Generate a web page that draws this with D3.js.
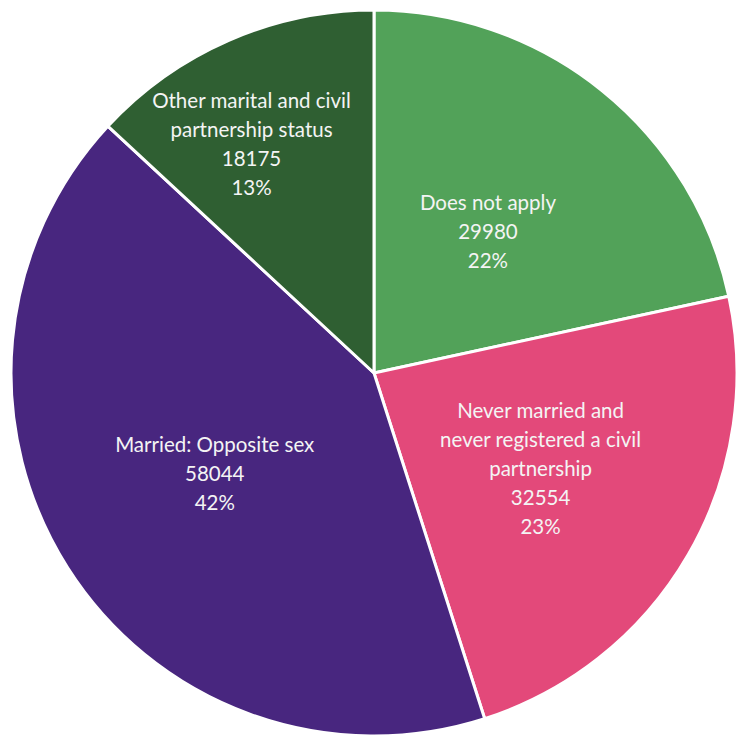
<!DOCTYPE html>
<html>
<head>
<meta charset="utf-8">
<script src="https://cdn.jsdelivr.net/npm/d3@7/dist/d3.min.js"></script>
<style>
  html, body { margin: 0; padding: 0; background: #ffffff; }
  svg { display: block; }
</style>
</head>
<body>
<svg id="chart" width="736" height="739"></svg>
<script>
// Marital and civil partnership status counts
const categories = [
  ["Does not apply"],
  ["Never married and", "never registered a civil", "partnership"],
  ["Married: Opposite sex"],
  ["Other marital and civil", "partnership status"]
];
const values = [29980, 32554, 58044, 18175];
const colors = ["#52A259", "#E3497A", "#48267F", "#2F5F32"];

// label placement: distance from centre (fraction of radius) and angular nudge (radians)
const labelRadius = [0.5, 0.53, 0.52, 0.715];
const labelShift = [0, 0, 0, -0.08];

const width = 736, height = 739;
const cx = 374, cy = 373, R = 363;

const svg = d3.select("#chart");
const g = svg.append("g").attr("transform", `translate(${cx},${cy})`);

const total = d3.sum(values);
const pie = d3.pie().sort(null).value(d => d)(values);
const arc = d3.arc().innerRadius(0).outerRadius(R);

g.selectAll("path.slice")
  .data(pie)
  .join("path")
  .attr("class", "slice")
  .attr("d", arc)
  .attr("fill", (d, i) => colors[i])
  .attr("stroke", "#ffffff")
  .attr("stroke-width", 3)
  .attr("stroke-linejoin", "round");

const lineH = 29;
g.selectAll("text.lbl")
  .data(pie)
  .join("text")
  .attr("class", "lbl")
  .attr("text-anchor", "middle")
  .attr("fill", "#F4F4F4")
  .style("font-family", "Lato, 'Open Sans', sans-serif")
  .style("font-size", "20.5px")
  .each(function(d, i) {
    const r = R * labelRadius[i];
    const a = (d.startAngle + d.endAngle) / 2 + labelShift[i];
    const x = r * Math.sin(a), y = -r * Math.cos(a);
    const lines = categories[i].concat([String(values[i]), d3.format(".0%")(values[i] / total)]);
    const n = lines.length;
    const t = d3.select(this);
    lines.forEach((s, k) => {
      t.append("tspan")
        .attr("x", x)
        .attr("y", y + (k - (n - 1) / 2) * lineH)
        .attr("dy", "0.35em")
        .text(s);
    });
  });
</script>
</body>
</html>
